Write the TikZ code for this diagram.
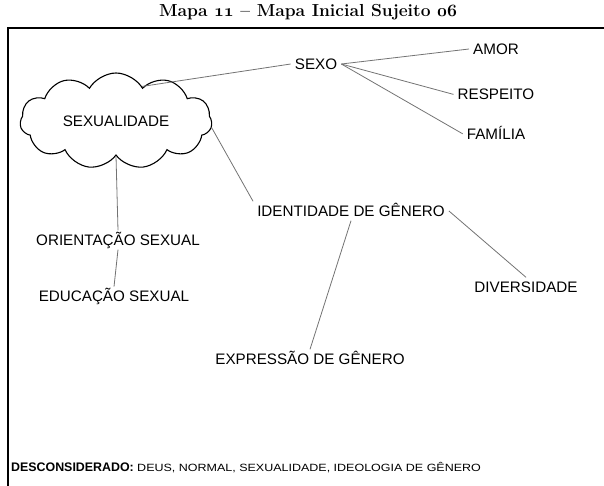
\documentclass[tikz,border=0pt]{standalone}
\usepackage{fontspec}
\setmainfont{Liberation Sans}
\newfontfamily\titlefont{Latin Modern Roman}
\usetikzlibrary{positioning,shapes.symbols}
\tikzstyle{word} = [inner sep=4pt,
                    text height=11pt,
                    text depth=0pt,
                    font=\fontsize{15.2}{18}\selectfont,
                    text=black]
\tikzstyle{blob} = [cloud,
                    cloud puffs=11,
                    cloud puff arc=120,
                    cloud ignores aspect,
                    minimum width=192pt,
                    minimum height=96pt,
                    % text sits a bit to the left in the scan
                    draw=black,
                    line width=1.1pt,
                    font=\fontsize{15.2}{18}\selectfont]
\tikzstyle{link} = [draw=black!55, line width=0.8pt]

\begin{document}
\begin{tikzpicture}[x=1pt,y=1pt]
\useasboundingbox (0,0) rectangle (604,485);
\node (title) [font=\titlefont\bfseries\fontsize{17.4}{20}\selectfont] at (308,473)
  {Mapa {\boldmath$\mathnormal{11}$} – Mapa Inicial Sujeito {\boldmath$\mathnormal{06}$}};
\draw [line width=1.5pt] (606,457) -- (8,457) -- (8,-2);

\node (sexo) [word] at (316,421) {SEXO};
\node (amor) [word] at (496,436) {AMOR};
\node (resp) [word, below=26pt of amor] {RESPEITO};
\node (fam) [word, below=20pt of resp] {FAMÍLIA};
\node (sex) [blob] at (116,364) {SEXUALIDADE};
\node (idg) [word] at (351,274) {IDENTIDADE DE GÊNERO};
\node (ori) [word] at (118,245) {ORIENTAÇÃO SEXUAL};
\node (edu) [word, below=37pt of ori, xshift=-4pt] {EDUCAÇÃO SEXUAL};
\node (div) [word] at (526,198) {DIVERSIDADE};
\node (exp) [word] at (310,126) {EXPRESSÃO DE GÊNERO};

\draw [link] (sex.53) -- (sexo.west);
\draw [link] (sexo.east) -- (amor.west);
\draw [link] (sexo.east) -- (resp.west);
\draw [link] (sexo.east) -- (fam.west);
\draw [link] (sex.-4) -- (idg.north west);
\draw [link] (sex.south) -- (ori.north);
\draw [link] (ori.south) -- (edu.north);
\draw [link] (idg.south) -- (exp.north);
\draw [link] (idg.east) -- (div.north);

\node (desc) [anchor=west, inner sep=0pt, font=\bfseries\fontsize{12.4}{14}\selectfont] at (11,18) {DESCONSIDERADO:};
\node (rest) [anchor=base west, inner sep=0pt, xshift=3pt, font=\fontsize{10.5}{12}\selectfont] at (desc.base east)
  {\scalebox{1.19}[1]{DEUS, NORMAL, SEXUALIDADE, IDEOLOGIA DE GÊNERO}};
\end{tikzpicture}
\end{document}
